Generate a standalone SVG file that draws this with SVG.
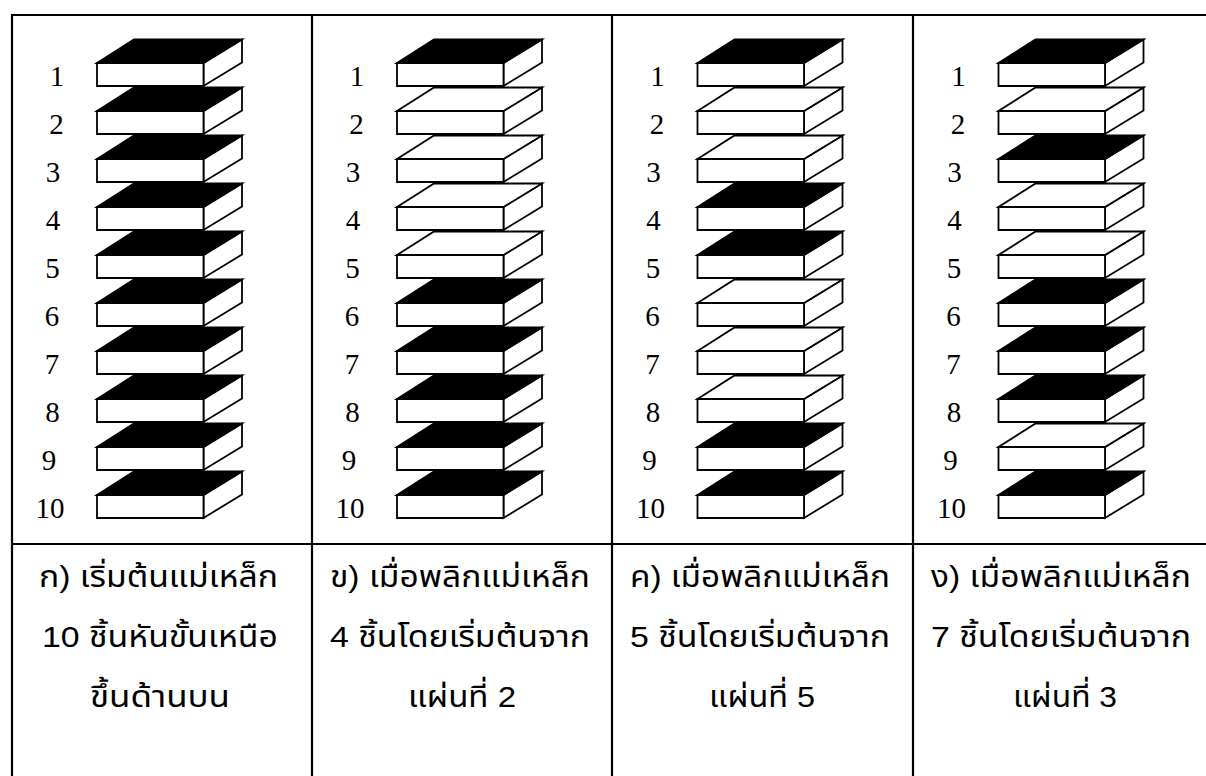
<svg xmlns="http://www.w3.org/2000/svg" xmlns:xlink="http://www.w3.org/1999/xlink" width="1206" height="776" viewBox="0 0 1206 776">
  <style>
    .grid { stroke: #000; stroke-width: 2.2; fill: none; }
    .edge { stroke: #000; stroke-width: 1.8; stroke-linejoin: miter; }
    .white { fill: #fff; }
    .black { fill: #000; }
    .num { font-family: "Liberation Serif", "Times New Roman", serif; font-size: 29px; fill: #000; text-anchor: middle; }
    .cap { font-family: "Liberation Sans", "Noto Sans Thai", "Noto Sans", sans-serif; font-size: 30px; fill: #000; text-anchor: middle; }
  </style>
  <defs>
    <!-- one magnet slab: front face, side face and top face (top fill set by class) -->
    <g id="slab-base">
      <path class="edge white" d="M203.5,63 L242,39.5 L242,62.5 L203.5,86 Z"/>
      <path class="edge white" d="M97,63 H203.5 V86 H97 Z"/>
    </g>
    <path id="slab-top" d="M97,63 L134,39.5 L242,39.5 L203.5,63 Z"/>
    <g id="slab-n">
      <use xlink:href="#slab-base"/>
      <use xlink:href="#slab-top" class="edge black"/>
    </g>
    <g id="slab-s">
      <use xlink:href="#slab-base"/>
      <use xlink:href="#slab-top" class="edge white"/>
    </g>
  </defs>

  <rect width="1206" height="776" fill="#fff"/>

  <!-- table rules -->
  <g id="table">
    <line class="grid" x1="12" y1="15" x2="1206" y2="15"/>
    <line class="grid" x1="12" y1="544" x2="1206" y2="544"/>
    <line class="grid" x1="12" y1="14" x2="12" y2="776"/>
    <line class="grid" x1="312" y1="14" x2="312" y2="776"/>
    <line class="grid" x1="612" y1="14" x2="612" y2="776"/>
    <line class="grid" x1="913" y1="14" x2="913" y2="776"/>
  </g>

  <!-- column A: all ten slabs north side up -->
  <g id="stack-a">
    <g id="a-labels">
      <text class="num" x="57" y="86">1</text>
      <text class="num" x="56.5" y="134">2</text>
      <text class="num" x="53" y="182">3</text>
      <text class="num" x="53" y="230">4</text>
      <text class="num" x="52.5" y="278">5</text>
      <text class="num" x="52" y="326">6</text>
      <text class="num" x="52" y="374">7</text>
      <text class="num" x="52.5" y="422">8</text>
      <text class="num" x="49" y="470">9</text>
      <text class="num" x="50" y="518">10</text>
    </g>
    <use id="a1" xlink:href="#slab-n" transform="translate(0,0)"/>
    <use id="a2" xlink:href="#slab-n" transform="translate(0,48)"/>
    <use id="a3" xlink:href="#slab-n" transform="translate(0,96)"/>
    <use id="a4" xlink:href="#slab-n" transform="translate(0,144)"/>
    <use id="a5" xlink:href="#slab-n" transform="translate(0,192)"/>
    <use id="a6" xlink:href="#slab-n" transform="translate(0,240)"/>
    <use id="a7" xlink:href="#slab-n" transform="translate(0,288)"/>
    <use id="a8" xlink:href="#slab-n" transform="translate(0,336)"/>
    <use id="a9" xlink:href="#slab-n" transform="translate(0,384)"/>
    <use id="a10" xlink:href="#slab-n" transform="translate(0,432)"/>
  </g>

  <!-- column B: slabs 2-5 flipped -->
  <g id="stack-b" transform="translate(300,0)">
    <use xlink:href="#a-labels"/>
    <use id="b1" xlink:href="#slab-n" transform="translate(0,0)"/>
    <use id="b2" xlink:href="#slab-s" transform="translate(0,48)"/>
    <use id="b3" xlink:href="#slab-s" transform="translate(0,96)"/>
    <use id="b4" xlink:href="#slab-s" transform="translate(0,144)"/>
    <use id="b5" xlink:href="#slab-s" transform="translate(0,192)"/>
    <use id="b6" xlink:href="#slab-n" transform="translate(0,240)"/>
    <use id="b7" xlink:href="#slab-n" transform="translate(0,288)"/>
    <use id="b8" xlink:href="#slab-n" transform="translate(0,336)"/>
    <use id="b9" xlink:href="#slab-n" transform="translate(0,384)"/>
    <use id="b10" xlink:href="#slab-n" transform="translate(0,432)"/>
  </g>

  <!-- column C: slabs 5-9 flipped again -->
  <g id="stack-c" transform="translate(600.5,0)">
    <use xlink:href="#a-labels"/>
    <use id="c1" xlink:href="#slab-n" transform="translate(0,0)"/>
    <use id="c2" xlink:href="#slab-s" transform="translate(0,48)"/>
    <use id="c3" xlink:href="#slab-s" transform="translate(0,96)"/>
    <use id="c4" xlink:href="#slab-n" transform="translate(0,144)"/>
    <use id="c5" xlink:href="#slab-n" transform="translate(0,192)"/>
    <use id="c6" xlink:href="#slab-s" transform="translate(0,240)"/>
    <use id="c7" xlink:href="#slab-s" transform="translate(0,288)"/>
    <use id="c8" xlink:href="#slab-s" transform="translate(0,336)"/>
    <use id="c9" xlink:href="#slab-n" transform="translate(0,384)"/>
    <use id="c10" xlink:href="#slab-n" transform="translate(0,432)"/>
  </g>

  <!-- column D: slabs 3-9 flipped again -->
  <g id="stack-d" transform="translate(901.5,0)">
    <use xlink:href="#a-labels"/>
    <use id="d1" xlink:href="#slab-n" transform="translate(0,0)"/>
    <use id="d2" xlink:href="#slab-s" transform="translate(0,48)"/>
    <use id="d3" xlink:href="#slab-n" transform="translate(0,96)"/>
    <use id="d4" xlink:href="#slab-s" transform="translate(0,144)"/>
    <use id="d5" xlink:href="#slab-s" transform="translate(0,192)"/>
    <use id="d6" xlink:href="#slab-n" transform="translate(0,240)"/>
    <use id="d7" xlink:href="#slab-n" transform="translate(0,288)"/>
    <use id="d8" xlink:href="#slab-n" transform="translate(0,336)"/>
    <use id="d9" xlink:href="#slab-s" transform="translate(0,384)"/>
    <use id="d10" xlink:href="#slab-n" transform="translate(0,432)"/>
  </g>

  <!-- captions -->
  <g id="caption-a">
    <text class="cap" x="158.5" y="587" textLength="239" lengthAdjust="spacingAndGlyphs">ก) เริ่มต้นแม่เหล็ก</text>
    <text class="cap" x="160" y="647" textLength="236" lengthAdjust="spacingAndGlyphs">10 ชิ้นหันขั้นเหนือ</text>
    <text class="cap" x="160" y="707" textLength="140" lengthAdjust="spacingAndGlyphs">ขึ้นด้านบน</text>
  </g>
  <g id="caption-b">
    <text class="cap" x="460" y="587" textLength="260" lengthAdjust="spacingAndGlyphs">ข) เมื่อพลิกแม่เหล็ก</text>
    <text class="cap" x="460" y="647" textLength="260" lengthAdjust="spacingAndGlyphs">4 ชิ้นโดยเริ่มต้นจาก</text>
    <text class="cap" x="462" y="707" textLength="108" lengthAdjust="spacingAndGlyphs">แผ่นที่ 2</text>
  </g>
  <g id="caption-c">
    <text class="cap" x="760" y="587" textLength="260" lengthAdjust="spacingAndGlyphs">ค) เมื่อพลิกแม่เหล็ก</text>
    <text class="cap" x="760" y="647" textLength="260" lengthAdjust="spacingAndGlyphs">5 ชิ้นโดยเริ่มต้นจาก</text>
    <text class="cap" x="762" y="707" textLength="106" lengthAdjust="spacingAndGlyphs">แผ่นที่ 5</text>
  </g>
  <g id="caption-d">
    <text class="cap" x="1061" y="587" textLength="260" lengthAdjust="spacingAndGlyphs">ง) เมื่อพลิกแม่เหล็ก</text>
    <text class="cap" x="1061" y="647" textLength="260" lengthAdjust="spacingAndGlyphs">7 ชิ้นโดยเริ่มต้นจาก</text>
    <text class="cap" x="1065" y="707" textLength="104" lengthAdjust="spacingAndGlyphs">แผ่นที่ 3</text>
  </g>
</svg>
